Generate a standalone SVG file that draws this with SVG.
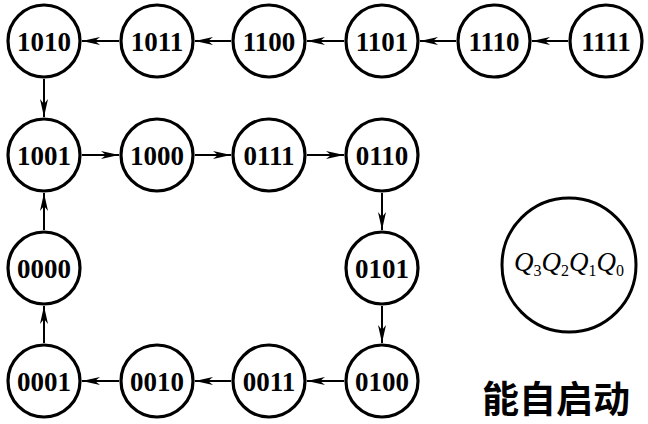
<svg xmlns="http://www.w3.org/2000/svg" width="648" height="424" viewBox="0 0 648 424">
<style>
.st circle{fill:#fff;stroke:#000;stroke-width:3.2}
.st text{font-family:"Liberation Serif","Times New Roman",serif;font-weight:bold;font-size:27px;text-anchor:middle;fill:#000}
#edges line{stroke:#000;stroke-width:2;marker-end:url(#ah)}
.q{font-family:"Liberation Serif","Times New Roman",serif;font-style:italic;font-size:27px;fill:#000}
.sub{font-style:normal;font-size:16px}
.cap{font-family:"Noto Sans CJK SC","Noto Sans",sans-serif;font-weight:bold;font-size:37px;text-anchor:middle;fill:#000}
</style>
<defs>
<marker id="ah" markerUnits="userSpaceOnUse" markerWidth="20" markerHeight="10" refX="18" refY="5" orient="auto" viewBox="0 0 20 10">
<path d="M18,5 L0,1 L5,5 L0,9 Z" fill="#000"/>
</marker>
</defs>
<rect width="648" height="424" fill="#fff"/>
<g id="edges">
<line x1="568" y1="41" x2="532" y2="41"/>
<line x1="456" y1="41" x2="420" y2="41"/>
<line x1="344" y1="41" x2="307" y2="41"/>
<line x1="231" y1="41" x2="195" y2="41"/>
<line x1="119" y1="41" x2="82" y2="41"/>
<line x1="44" y1="79" x2="44" y2="117"/>
<line x1="82" y1="155" x2="119" y2="155"/>
<line x1="195" y1="155" x2="231" y2="155"/>
<line x1="307" y1="155" x2="344" y2="155"/>
<line x1="382" y1="193" x2="382" y2="230"/>
<line x1="382" y1="306" x2="382" y2="343"/>
<line x1="344" y1="381" x2="307" y2="381"/>
<line x1="231" y1="381" x2="195" y2="381"/>
<line x1="119" y1="381" x2="82" y2="381"/>
<line x1="44" y1="343" x2="44" y2="306"/>
<line x1="44" y1="230" x2="44" y2="193"/>
</g>
<g id="n1111" class="st"><circle cx="606" cy="41" r="36"/><text x="606" y="50.5">1111</text></g>
<g id="n1110" class="st"><circle cx="494" cy="41" r="36"/><text x="494" y="50.5">1110</text></g>
<g id="n1101" class="st"><circle cx="382" cy="41" r="36"/><text x="382" y="50.5">1101</text></g>
<g id="n1100" class="st"><circle cx="269" cy="41" r="36"/><text x="269" y="50.5">1100</text></g>
<g id="n1011" class="st"><circle cx="157" cy="41" r="36"/><text x="157" y="50.5">1011</text></g>
<g id="n1010" class="st"><circle cx="44" cy="41" r="36"/><text x="44" y="50.5">1010</text></g>
<g id="n1001" class="st"><circle cx="44" cy="155" r="36"/><text x="44" y="164.5">1001</text></g>
<g id="n1000" class="st"><circle cx="157" cy="155" r="36"/><text x="157" y="164.5">1000</text></g>
<g id="n0111" class="st"><circle cx="269" cy="155" r="36"/><text x="269" y="164.5">0111</text></g>
<g id="n0110" class="st"><circle cx="382" cy="155" r="36"/><text x="382" y="164.5">0110</text></g>
<g id="n0101" class="st"><circle cx="382" cy="268" r="36"/><text x="382" y="277.5">0101</text></g>
<g id="n0000" class="st"><circle cx="44" cy="268" r="36"/><text x="44" y="277.5">0000</text></g>
<g id="n0100" class="st"><circle cx="382" cy="381" r="36"/><text x="382" y="390.5">0100</text></g>
<g id="n0011" class="st"><circle cx="269" cy="381" r="36"/><text x="269" y="390.5">0011</text></g>
<g id="n0010" class="st"><circle cx="157" cy="381" r="36"/><text x="157" y="390.5">0010</text></g>
<g id="n0001" class="st"><circle cx="44" cy="381" r="36"/><text x="44" y="390.5">0001</text></g>
<g id="legend">
<circle cx="569" cy="265" r="67" fill="#fff" stroke="#000" stroke-width="3"/>
<text class="q" x="569" y="271" text-anchor="middle">Q<tspan class="sub" dy="5">3</tspan><tspan dy="-5">Q</tspan><tspan class="sub" dy="5">2</tspan><tspan dy="-5">Q</tspan><tspan class="sub" dy="5">1</tspan><tspan dy="-5">Q</tspan><tspan class="sub" dy="5">0</tspan></text>
</g>
<text class="cap" x="556" y="413">能自启动</text>
</svg>
